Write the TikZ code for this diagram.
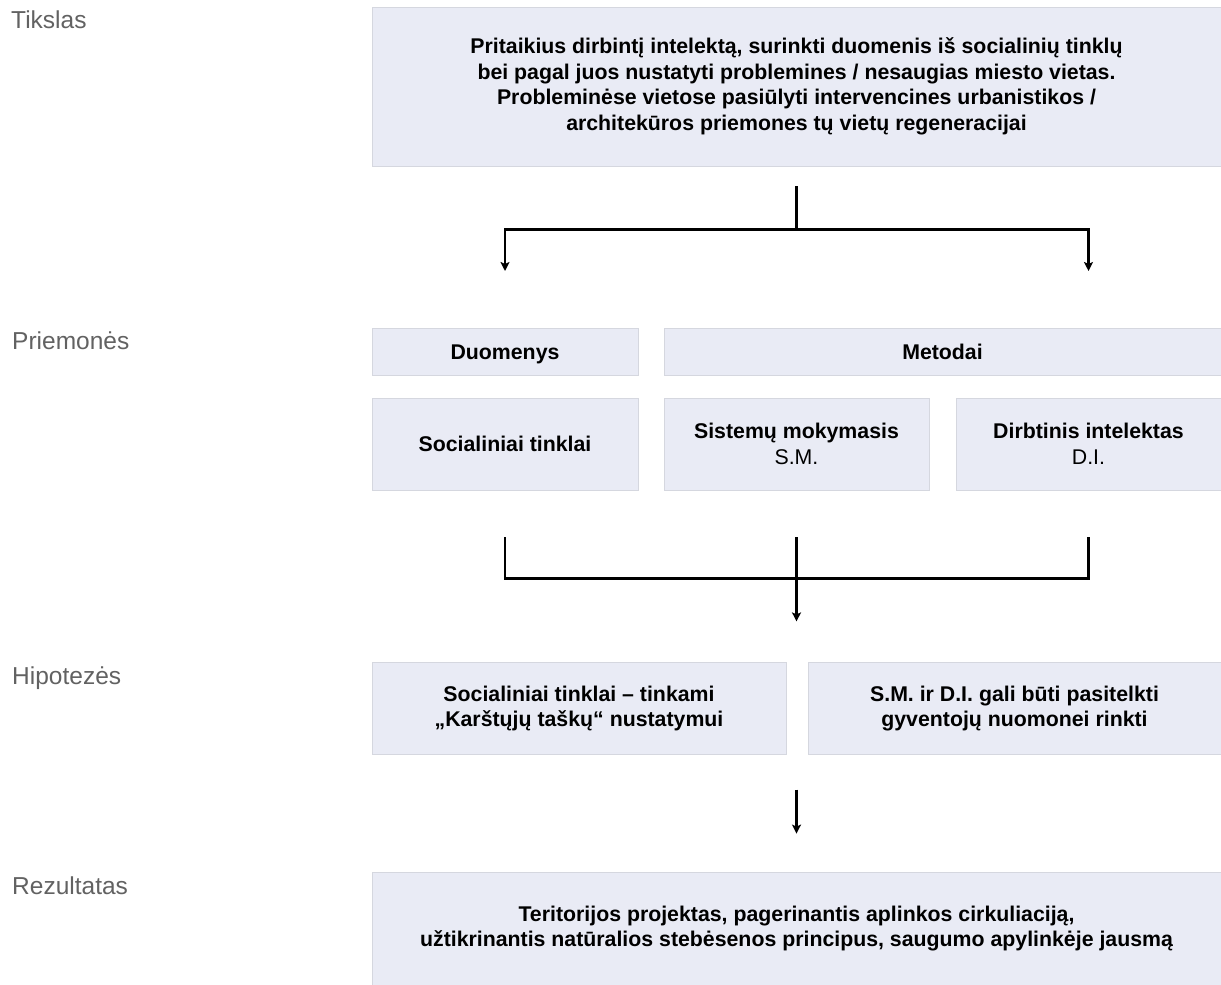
\documentclass[tikz,border=0pt]{standalone}
\usepackage{fontspec}
\setmainfont{Liberation Sans}
\usetikzlibrary{arrows.meta, calc}
\definecolor{boxfill}{HTML}{E9EBF5}
\definecolor{boxline}{HTML}{D5D7DF}
\definecolor{labelgray}{HTML}{626262}
\tikzstyle{panel} = [rectangle, align=center, inner sep=0pt, draw=boxline, fill=boxfill, line width=0.8pt, font=\bfseries\fontsize{21.3}{25.5}\selectfont]
\tikzstyle{stage} = [anchor=base west, inner sep=0pt, text=labelgray, font=\fontsize{24.5}{28}\selectfont]
\tikzstyle{wire} = [line width=2.2pt]
\tikzstyle{arrow} = [line width=2.2pt, -{Stealth[length=9pt, width=9pt, inset=2pt]}]

\begin{document}
\begin{tikzpicture}[x=1pt, y=-1pt]
  \fill [white] (0,0) rectangle (1221,985);
  \useasboundingbox (0,0) rectangle (1221,985);
  % stage labels
  \node (tikslas) [stage] at (11,28) {Tikslas};
  \node (priemones) [stage] at (12,349) {Priemonės};
  \node (hipotezes) [stage] at (12,684) {Hipotezės};
  \node (rezultatas) [stage] at (12,894) {Rezultatas};
  % boxes
  \node (goal) [panel, minimum width=849pt, minimum height=159pt] at (796.5,86.5) {Pritaikius dirbintį intelektą, surinkti duomenis iš socialinių tinklų\\bei pagal juos nustatyti problemines / nesaugias miesto vietas.\\Probleminėse vietose pasiūlyti intervencines urbanistikos /\\architekūros priemones tų vietų regeneracijai};
  \node (data) [panel, minimum width=266pt, minimum height=47pt, text height=15.5pt, text depth=0pt] at (505,351.5) {Duomenys};
  \node (methods) [panel, minimum width=557pt, minimum height=47pt, text height=15.5pt, text depth=0pt] at (942.5,351.5) {Metodai};
  \node (social) [panel, minimum width=266pt, minimum height=92pt] at (505,444) {Socialiniai tinklai};
  \node (ml) [panel, minimum width=265pt, minimum height=92pt] at (796.5,444) {Sistemų mokymasis\\{\mdseries S.M.}};
  \node (ai) [panel, minimum width=265pt, minimum height=92pt] at (1088.5,444) {Dirbtinis intelektas\\{\mdseries D.I.}};
  \node (hypsocial) [panel, minimum width=414pt, minimum height=92pt] at (579,708.5) {Socialiniai tinklai – tinkami\\„Karštųjų taškų“ nustatymui};
  \node (hypai) [panel, minimum width=413pt, minimum height=92pt] at (1014.5,708.5) {S.M. ir D.I. gali būti pasitelkti\\gyventojų nuomonei rinkti};
  \node (result) [panel, minimum width=849pt, minimum height=113pt] at (796.5,928.5) {Teritorijos projektas, pagerinantis aplinkos cirkuliaciją,\\užtikrinantis natūralios stebėsenos principus, saugumo apylinkėje jausmą};
  % connectors
  \coordinate (split) at ($(goal.south)+(0,63)$);
  \draw [wire] ($(goal.south)+(0,20)$) -- (split);
  \draw let \p1 = (data.north) in [arrow] (split) -| (\x1,271);
  \draw let \p1 = (ai.north) in [arrow] (split) -| (\x1,271);
  \coordinate (join) at ($(ml.south)+(0,88)$);
  \draw [wire] ($(social.south)+(0,47)$) |- (join);
  \draw [wire] ($(ai.south)+(0,47)$) |- (join);
  \draw [wire] ($(ml.south)+(0,47)$) -- (join);
  \draw [arrow] (join) -- ($(ml.south)+(0,131)$);
  \draw [arrow] ($(result.north)+(0,-82)$) -- ($(result.north)+(0,-38)$);
\end{tikzpicture}
\end{document}
